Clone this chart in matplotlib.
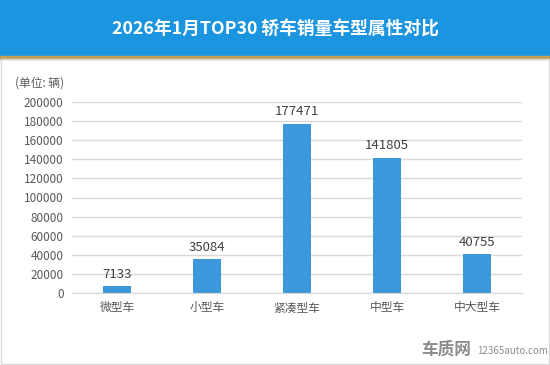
import matplotlib.pyplot as plt
from matplotlib.patches import Rectangle

plt.rcParams['font.family'] = ['Noto Sans CJK SC', 'DejaVu Sans']

categories = ['微型车', '小型车', '紧凑型车', '中型车', '中大型车']
sales = [7133, 35084, 177471, 141805, 40755]
yticks = list(range(0, 200001, 20000))

fig = plt.figure(figsize=(5.5, 3.65), dpi=100)

# title band and gold rule
fig.patches.append(Rectangle((0, 1 - 56 / 365), 1, 56 / 365, transform=fig.transFigure,
                             color='#1B95DF', zorder=0))
fig.patches.append(Rectangle((0, 1 - 59 / 365), 1, 3 / 365, transform=fig.transFigure,
                             color='#C3A058', zorder=0))
# outer frame
fig.patches.append(Rectangle((0.002, 0.003), 0.996, 1 - 59 / 365 - 0.003, transform=fig.transFigure,
                             fill=False, edgecolor='#D9D9D9', linewidth=1, zorder=0))
fig.text(0.5, 1 - 30 / 365, '2026年1月TOP30 轿车销量车型属性对比', ha='center', va='center',
         color='white', fontsize=12.8, fontweight='bold')

ax = fig.add_axes([72 / 550, 72 / 365, 450 / 550, 191 / 365])
x = range(len(categories))
ax.bar(x, sales, width=0.31, color='#3D97DB', zorder=2)
for i, v in zip(x, sales):
    ax.text(i, v + 5500, str(v), ha='center', va='bottom', fontsize=9.5, color='#404040')

ax.set_ylim(0, 200000)
ax.set_xlim(-0.5, len(categories) - 0.5)
ax.set_yticks(yticks)
ax.set_yticklabels([str(t) for t in yticks], fontsize=8.5, color='#595959')
ax.set_xticks(list(x))
ax.set_xticklabels(categories, fontsize=8.5, color='#595959')
ax.tick_params(length=0, pad=6)
ax.grid(axis='y', color='#D9D9D9', linewidth=1, zorder=0)
for s in ['top', 'right', 'left']:
    ax.spines[s].set_visible(False)
ax.spines['bottom'].set_color('#D9D9D9')
ax.text(-0.127, 1.10, '(单位: 辆)', transform=ax.transAxes, fontsize=8.5, color='#595959',
        ha='left', va='center')

fig.text(0.765, 0.042, '车质网', fontsize=12, fontweight='bold', color='#8C8C8C', ha='left', va='center')
fig.text(0.868, 0.038, '12365auto.com', fontsize=7, color='#8C8C8C', ha='left', va='center')

fig.savefig('out.png', dpi=100)
